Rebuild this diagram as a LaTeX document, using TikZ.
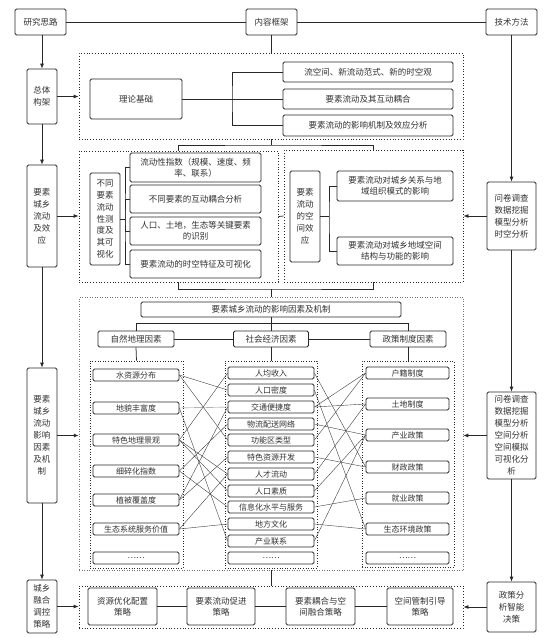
\documentclass[tikz,border=0pt]{standalone}
\usepackage{fontspec}
\setmainfont{Noto Sans CJK SC}
\usepackage{tikz}
\usetikzlibrary{arrows.meta,positioning}
\definecolor{lineink}{RGB}{40,40,40}
\definecolor{textink}{RGB}{50,50,50}

\begin{document}
\begin{tikzpicture}[x=1pt, y=-1pt,
    box/.style={draw=lineink, rounded corners=1.5pt, line width=0.75pt, inner sep=0pt,
                align=center, text=textink, font=\fontsize{8.5}{11}\selectfont},
    head/.style={box, minimum width=51pt, minimum height=26pt},
    side/.style={box, minimum width=30pt, font=\fontsize{8.5}{12}\selectfont},
    tool/.style={box, minimum width=49pt, font=\fontsize{8.5}{12}\selectfont},
    item/.style={box, minimum width=86pt, minimum height=12pt, font=\fontsize{8}{10}\selectfont},
    dotframe/.style={draw=lineink, dotted, line width=0.8pt},
    fineframe/.style={draw=black!55, dotted, line width=0.5pt},
    subframe/.style={draw=lineink, dotted, line width=0.6pt},
    flow/.style={-{Latex[length=5pt,width=4pt]}, line width=0.8pt, lineink},
    wire/.style={line width=0.75pt, lineink},
    link/.style={line width=0.4pt, black!75},
  ]
  \fill[white] (0,0) rectangle (560,638);
  \useasboundingbox (0,0) rectangle (560,638);

  % Kopfzeile
  \node[head] (idea) at (40.5,22) {研究思路};
  \node[head] (content) at (271.5,22) {内容框架};
  \node[head] (method) at (511.5,22) {技术方法};
  \draw[wire] (idea) -- (content);
  \draw[wire] (content) -- (method);

  % Linke Spalte
  \node[side, minimum height=55pt] (s1) at (42,96.5) {总体\\构架};
  \node[side, minimum height=102pt] (s2) at (42,216) {要素\\城乡\\流动\\及效\\应};
  \node[side, minimum height=135pt] (s3) at (42,435.5) {要素\\城乡\\流动\\影响\\因素\\及机\\制};
  \node[side, minimum height=53pt] (s4) at (42,606.5) {城乡\\融合\\调控\\策略};

  % Rechte Spalte
  \node[tool, minimum height=68pt] (m1) at (511.5,216) {问卷调查\\数据挖掘\\模型分析\\时空分析};
  \node[tool, minimum height=87pt] (m2) at (511.5,435.5)
    {问卷调查\\数据挖掘\\模型分析\\空间分析\\空间模拟\\可视化分\\析};
  \node[tool, minimum height=50pt] (m3) at (511.5,607) {政策分\\析智能\\决策};

  % Rahmen
  \node[dotframe, minimum width=384pt, minimum height=86pt] (theo) at (271,96) {};
  \node[dotframe, minimum width=199pt, minimum height=131pt] (ea) at (178.5,216.5) {};
  \node[dotframe, minimum width=179pt, minimum height=132pt] (eb) at (373.5,216) {};
  \node[fineframe, minimum width=384pt, minimum height=273pt] (mech) at (271,433.5) {};
  \node[dotframe, minimum width=384pt, minimum height=42pt] (strat) at (271,607) {};

  % Theorie
  \node[box, minimum width=92pt, minimum height=40pt] (basis) at (136,99) {理论基础};
  \node[box, minimum width=170pt, minimum height=20pt] (t1) at (368,72) {流空间、新流动范式、新的时空观};
  \node[box, minimum width=170pt, minimum height=20pt] (t2) at (368,99) {要素流动及其互动耦合};
  \node[box, minimum width=170pt, minimum height=21pt] (t3) at (368,125.5) {要素流动的影响机制及效应分析};
  \coordinate (brt) at (232,99);
  \draw[wire] (basis.east) -- (t2.west);
  \draw[wire] (t1.west) -| (brt) |- (t3.west);

  % Messung
  \node[side, minimum height=92pt, font=\fontsize{8.5}{11.7}\selectfont] (msr) at (105,219)
    {不同\\要素\\流动\\性测\\度及\\其可\\视化};
  \node[box, minimum width=131pt, minimum height=29pt] (ma) at (195.5,167.5)
    {流动性指数（规模、速度、频\\率、联系）};
  \node[box, minimum width=131pt, minimum height=28pt] (mb) at (195.5,199) {不同要素的互动耦合分析};
  \node[box, minimum width=131pt, minimum height=28pt] (mc) at (195.5,231)
    {人口、土地，生态等关键要素\\的识别};
  \node[box, minimum width=131pt, minimum height=28pt] (md) at (195.5,264) {要素流动的时空特征及可视化};
  \coordinate (brm) at (125,219);
  \draw[wire] (msr.east) -- (brm);
  \draw[wire] (ma.west) -| (brm) |- (md.west);
  \draw[wire] (mb.west) -| (brm) |- (mc.west);

  % Raumeffekt
  \node[side, minimum height=91pt] (spe) at (305,216.5) {要素\\流动\\的空\\间效\\应};
  \node[box, minimum width=116pt, minimum height=30pt] (ee) at (395,186)
    {要素流动对城乡关系与地\\域组织模式的影响};
  \node[box, minimum width=116pt, minimum height=28pt] (ef) at (395,251)
    {要素流动对城乡地域空间\\结构与功能的影响};
  \coordinate (brs) at (329,216.5);
  \draw[wire] (spe.east) -- (brs);
  \draw[wire] (ee.west) -| (brs) |- (ef.west);

  % Mechanismus
  \node[box, minimum width=260pt, minimum height=15pt] (mtitle) at (271,309.5) {要素城乡流动的影响因素及机制};
  \node[box, minimum width=76pt, minimum height=16pt] (fn) at (136,339) {自然地理因素};
  \node[box, minimum width=75pt, minimum height=16pt] (fs) at (271,339) {社会经济因素};
  \node[box, minimum width=76pt, minimum height=16pt] (fp) at (408,339) {政策制度因素};
  \node[subframe, minimum width=93pt, minimum height=207pt] (gn) at (136.5,464.5) {};
  \node[subframe, minimum width=92pt, minimum height=207pt] (gs) at (271,464.5) {};
  \node[subframe, minimum width=92pt, minimum height=206pt] (gp) at (408,464) {};

  % Naturfaktoren
  \node[item] (nat1) at (136,375) {水资源分布};
  \node[item] (nat2) at (136,408) {地貌丰富度};
  \node[item] (nat3) at (136,440) {特色地理景观};
  \node[item] (nat4) at (136,471) {细碎化指数};
  \node[item] (nat5) at (136,500) {植被覆盖度};
  \node[item] (nat6) at (136,529) {生态系统服务价值};
  \node[item] (nat7) at (136,558) {……};

  % Sozialfaktoren
  \node[item] (soc1) at (271,373) {人均收入};
  \node[item] (soc2) at (271,390) {人口密度};
  \node[item] (soc3) at (271,407) {交通便捷度};
  \node[item] (soc4) at (271,424) {物流配送网络};
  \node[item] (soc5) at (271,440) {功能区类型};
  \node[item] (soc6) at (271,457) {特色资源开发};
  \node[item] (soc7) at (271,474) {人才流动};
  \node[item] (soc8) at (271,491) {人口素质};
  \node[item] (soc9) at (271,507) {信息化水平与服务};
  \node[item] (soc10) at (271,524) {地方文化};
  \node[item] (soc11) at (271,541) {产业联系};
  \node[item] (soc12) at (271,558) {……};

  % Politikfaktoren
  \node[item, minimum width=83pt] (pol1) at (407.5,373) {户籍制度};
  \node[item, minimum width=83pt] (pol2) at (407.5,404) {土地制度};
  \node[item, minimum width=83pt] (pol3) at (407.5,435) {产业政策};
  \node[item, minimum width=83pt] (pol4) at (407.5,467) {财政政策};
  \node[item, minimum width=83pt] (pol5) at (407.5,498) {就业政策};
  \node[item, minimum width=83pt] (pol6) at (407.5,529) {生态环境政策};
  \node[item, minimum width=83pt] (pol7) at (407.5,558) {……};

  % Strategien
  \node[box, minimum width=69pt, minimum height=37pt] (r1) at (122.5,606.5) {资源优化配置\\策略};
  \node[box, minimum width=68pt, minimum height=37pt] (r2) at (221,606.5) {要素流动促进\\策略};
  \node[box, minimum width=69pt, minimum height=37pt] (r3) at (320.5,606.5) {要素耦合与空\\间融合策略};
  \node[box, minimum width=66pt, minimum height=37pt] (r4) at (420,606.5) {空间管制引导\\策略};
  \draw[wire] (r1) -- (r2);
  \draw[wire] (r2) -- (r3);
  \draw[wire] (r3) -- (r4);

  % Pfeile links und rechts
  \draw[flow] (s1.north |- idea.south) -- (s1.north);
  \draw[flow] (s1.south) -- (s2.north);
  \draw[flow] (s2.south) -- (s3.north);
  \draw[flow] (s3.south) -- (s4.north);
  \draw[flow] (s1.east) -- (s1.east -| theo.west);
  \draw[flow] (s2.east) -- (s2.east -| ea.west);
  \draw[flow] (s3.east) -- (s3.east -| mech.west);
  \draw[flow] (s4.east) -- (s4.east -| strat.west);
  \draw[flow] (method.south) -- (m1.north);
  \draw[flow] (m1.south) -- (m2.north);
  \draw[flow] (m2.south) -- (m3.north);
  \draw[flow] (m1.west) -- (m1.west -| eb.east);
  \draw[flow] (m2.west) -- (m2.west -| mech.east);
  \draw[flow] (m3.west) -- (m3.west -| strat.east);

  % Verbindungen der Rahmen
  \draw[wire] (content.south) -- (content.south |- theo.north);
  \coordinate (jtop) at (271,145);
  \coordinate (jbot) at (271,289);
  \draw[wire] (jtop |- theo.south) -- (jtop);
  \draw[wire] (ea.north) |- (jtop) -| (eb.north);
  \draw[wire] (ea.south) |- (jbot) -| (eb.south);
  \draw[wire] (jbot) -- (jbot |- mech.north);
  \draw[wire] (ea.east) -- (eb.west);
  \draw[wire] (mech.south) -- (strat.north);
  \draw[wire] (mtitle.south) -- ++(0,6) coordinate (jm);
  \draw[wire] (fn.north) |- (jm) -| (fp.north);
  \draw[wire] (jm) -- (fs.north);
  \draw[wire] (fn) -- (fs);
  \draw[wire] (fs) -- (fp);
  \draw[wire] (fn.south) -- (gn.north);
  \draw[wire] (fs.south) -- (gs.north);
  \draw[wire] (fp.south) -- (gp.north);

  % Verflechtungen
  \draw[link] (nat1.east) -- (soc2.west);
  \draw[link] (nat1.east) -- (soc5.west);
  \draw[link, black!45] (nat2.east) -- (soc3.west);
  \draw[link] (nat2.east) -- (soc11.west);
  \draw[link] (nat3.east) -- (soc1.west);
  \draw[link] (nat3.east) -- (soc7.west);
  \draw[link] (nat3.east) -- (soc8.west);
  \draw[link] (nat4.east) -- (soc4.west);
  \draw[link] (nat4.east) -- (soc9.west);
  \draw[link] (nat5.east) -- (soc3.west);
  \draw[link] (nat5.east) -- (soc6.west);
  \draw[link] (nat6.east) -- (soc7.west);
  \draw[link] (nat6.east) -- (soc10.west);

  \draw[link] (soc1.east) -- (pol4.west);
  \draw[link] (soc2.east) -- (pol6.west);
  \draw[link] (soc3.east) -- (pol1.west);
  \draw[link] (soc3.east) -- (pol2.west);
  \draw[link] (soc4.east) -- (pol3.west);
  \draw[link] (soc5.east) -- (pol1.west);
  \draw[link] (soc6.east) -- (pol4.west);
  \draw[link] (soc7.east) -- (pol2.west);
  \draw[link] (soc8.east) -- (pol3.west);
  \draw[link] (soc9.east) -- (pol5.west);
  \draw[link] (soc10.east) -- (pol6.west);
  \draw[link] (soc11.east) -- (pol3.west);
\end{tikzpicture}
\end{document}
